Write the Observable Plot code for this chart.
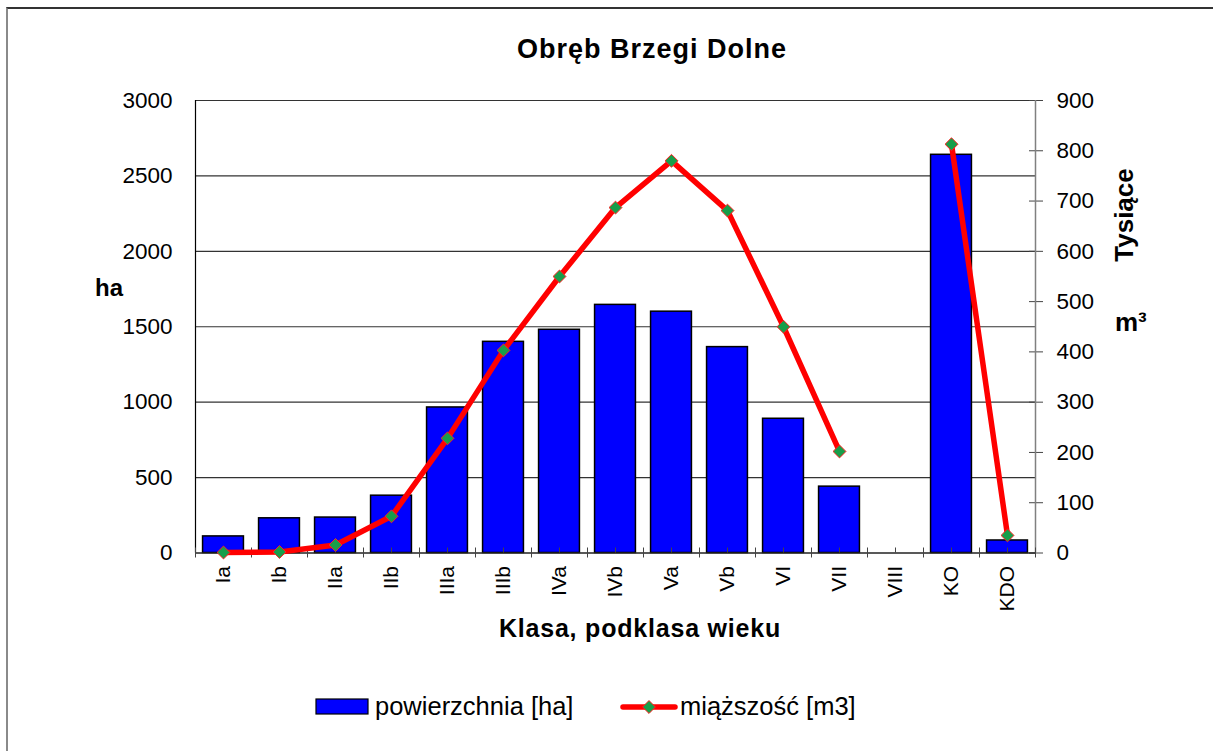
<!DOCTYPE html>
<html><head><meta charset="utf-8">
<script src="https://cdn.jsdelivr.net/npm/d3@7"></script>
<script src="https://cdn.jsdelivr.net/npm/@observablehq/plot@0.6"></script>
<style>
html,body{margin:0;padding:0;background:#fff;}
#wrap{position:relative;width:1213px;height:751px;overflow:hidden;font-family:"Liberation Sans",Arial,sans-serif;}
#wrap svg{position:absolute;left:0;top:0;}
#frame{position:absolute;left:6px;top:7px;width:1300px;height:900px;border-left:2px solid #8a8a8a;border-top:2px solid #333;pointer-events:none;}
</style></head><body><div id="wrap"></div>
<script>
// ---- data ----
const categories = ["Ia","Ib","IIa","IIb","IIIa","IIIb","IVa","IVb","Va","Vb","VI","VII","VIII","KO","KDO"];
const area = [110, 230, 235, 380, 965, 1400, 1480, 1645, 1600, 1365, 890, 440, null, 2640, 83]; // ha
const volume = [1, 2, 16, 73, 228, 403, 550, 687, 780, 681, 450, 202, null, 813, 35]; // tys. m3
const leftTicks = [0, 500, 1000, 1500, 2000, 2500, 3000];
const rightTicks = [0, 100, 200, 300, 400, 500, 600, 700, 800, 900];
const leftMax = 3000, rightMax = 900;
const labels = {
  title: "Obręb Brzegi Dolne",
  xTitle: "Klasa, podklasa wieku",
  yLeft: "ha",
  yRight1: "Tysiące",
  yRight2: "m³",
  legendBar: "powierzchnia [ha]",
  legendLine: "miąższość [m3]"
};

const k = leftMax / rightMax;
const table = categories.map((c, i) => ({cat: c, i, area: area[i], vol: volume[i]}));
const barData = table.filter(d => d.area != null);
const volData = table.filter(d => d.vol != null);

const W = 1213, H = 751;
const mL = 195, mR = 178, mT = 100, mB = 198.5;

const plot = Plot.plot({
  width: W, height: H,
  marginLeft: mL, marginRight: mR, marginTop: mT, marginBottom: mB,
  style: {fontFamily: '"Liberation Sans", Arial, sans-serif', background: "transparent", overflow: "visible"},
  x: {type: "linear", domain: [0, categories.length], axis: null},
  y: {domain: [0, leftMax], axis: null},
  marks: [
    Plot.ruleY(leftTicks.slice(1), {stroke: "#333", strokeWidth: 1.1}),
    // left axis labels
    Plot.axisY({anchor: "left", ticks: leftTicks, tickSize: 0, tickPadding: 23, fontSize: 22.5, label: null, tickFormat: d => String(d)}),
    // right axis ticks (crossing)
    Plot.axisY({anchor: "right", ticks: rightTicks.map(v => v * k), tickSize: 14, dx: -7, tickFormat: () => "", label: null, stroke: "#444"}),
    Plot.axisY({anchor: "right", ticks: rightTicks.map(v => v * k), tickSize: 0, tickPadding: 21, fontSize: 22.5, label: null,
      tickFormat: d => String(Math.round(d / k))}),
    // bars
    Plot.rectY(barData, {x1: d => d.i + 0.135, x2: d => d.i + 0.865, y: "area", fill: "#0000FF", stroke: "#000", strokeWidth: 1.5}),
    // axis lines
    Plot.ruleX([0], {stroke: "#000", strokeWidth: 1.2}),
    Plot.ruleX([categories.length], {stroke: "#808080", strokeWidth: 1.5}),
    Plot.ruleY([0], {stroke: "#222", strokeWidth: 1.5}),
    // category boundary ticks
    Plot.axisX({anchor: "bottom", ticks: d3.range(categories.length + 1), tickSize: 10, dy: -5, tickFormat: () => "", label: null, stroke: "#444"}),
    // centre ticks (secondary)
    Plot.axisX({anchor: "bottom", ticks: categories.map((c, i) => i + 0.5), tickSize: 5, dy: -5, tickFormat: () => "", label: null, stroke: "#444"}),
    // category labels
    Plot.axisX({anchor: "bottom", ticks: categories.map((c, i) => i + 0.5), tickSize: 0, tickPadding: 13, tickRotate: -90, fontSize: 21,
      tickFormat: d => categories[Math.floor(d)], label: null}),
    // line
    Plot.line(table, {x: d => d.i + 0.5, y: d => d.vol == null ? NaN : d.vol * k, stroke: "#FF0000", strokeWidth: 5.5, strokeLinejoin: "round", strokeLinecap: "round"}),
    Plot.dot(volData, {x: d => d.i + 0.5, y: d => d.vol * k, symbol: "diamond2", r: 5.8, fill: "#179E4A", stroke: "#FF2020", strokeWidth: 1})
  ]
});

const wrap = document.getElementById("wrap");
wrap.appendChild(plot);

const svg = d3.select(plot);
const g = svg.append("g").attr("font-family", '"Liberation Sans", Arial, sans-serif').attr("fill", "#000").attr("text-anchor", "start");
g.append("text").text(labels.title).attr("x", 652).attr("y", 58).attr("text-anchor", "middle")
  .attr("font-size", 27).attr("font-weight", "bold").attr("letter-spacing", 1);
g.append("text").text(labels.xTitle).attr("x", 640).attr("y", 637).attr("text-anchor", "middle")
  .attr("font-size", 25).attr("font-weight", "bold").attr("letter-spacing", 0.8);
g.append("text").text(labels.yLeft).attr("x", 95).attr("y", 296).attr("text-anchor", "start")
  .attr("font-size", 24).attr("font-weight", "bold");
g.append("text").text(labels.yRight1).attr("transform", "translate(1133,215) rotate(-90)").attr("text-anchor", "middle")
  .attr("font-size", 26).attr("font-weight", "bold");
g.append("text").text(labels.yRight2).attr("x", 1115).attr("y", 331).attr("text-anchor", "start")
  .attr("font-size", 26).attr("font-weight", "bold");

// legend
const lg = g.append("g");
lg.append("rect").attr("x", 316).attr("y", 699).attr("width", 52).attr("height", 15).attr("fill", "#0000FF").attr("stroke", "#000").attr("stroke-width", 1.2);
lg.append("text").text(labels.legendBar).attr("x", 375).attr("y", 715).attr("text-anchor", "start").attr("font-size", 25.5);
lg.append("line").attr("x1", 623).attr("x2", 675).attr("y1", 707).attr("y2", 707).attr("stroke", "#FF0000").attr("stroke-width", 5.5).attr("stroke-linecap", "round");
lg.append("path").attr("d", d3.symbol(d3.symbolDiamond2, Math.PI * 5.8 * 5.8)()).attr("transform", "translate(649,707)")
  .attr("fill", "#179E4A").attr("stroke", "#FF2020").attr("stroke-width", 1);
lg.append("text").text(labels.legendLine).attr("x", 680).attr("y", 715).attr("text-anchor", "start").attr("font-size", 25.5);

const frame = document.createElement("div");
frame.id = "frame";
wrap.appendChild(frame);
</script>
</body></html>
